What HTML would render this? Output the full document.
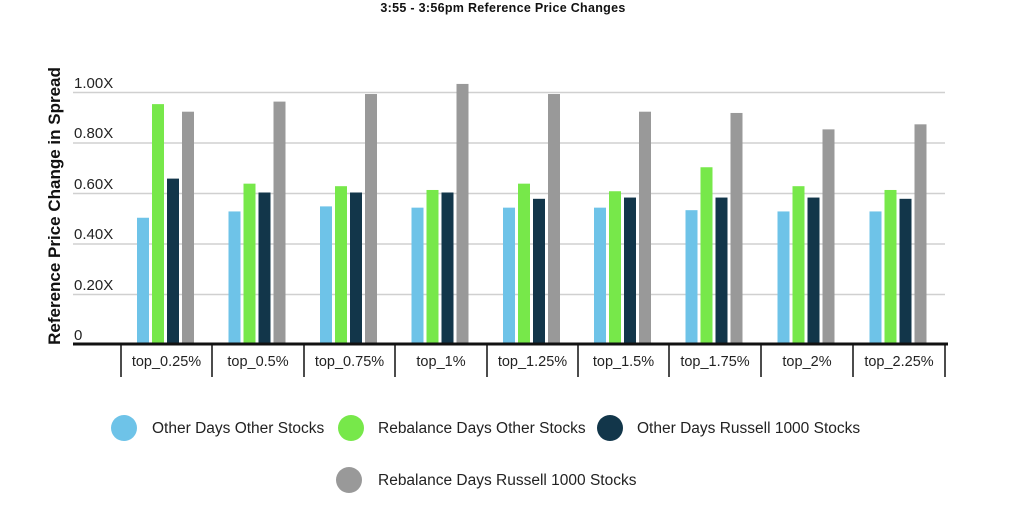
<!DOCTYPE html>
<html><head><meta charset="utf-8"><style>
html,body{margin:0;padding:0;background:#fff;}
svg{display:block;font-family:"Liberation Sans",Arial,sans-serif;}
</style></head><body>
<svg width="1024" height="506" viewBox="0 0 1024 506" xmlns="http://www.w3.org/2000/svg">
<text x="503" y="12" font-size="12.5" font-weight="bold" text-anchor="middle" fill="#111" letter-spacing="0.3">3:55 - 3:56pm Reference Price Changes</text>
<g stroke="#d0d0d0" stroke-width="1.5">
<line x1="73" y1="92.5" x2="945" y2="92.5"/>
<line x1="73" y1="143" x2="945" y2="143"/>
<line x1="73" y1="193.5" x2="945" y2="193.5"/>
<line x1="73" y1="244" x2="945" y2="244"/>
<line x1="73" y1="294.5" x2="945" y2="294.5"/>
</g>
<g font-size="15" fill="#222">
<text x="74" y="88">1.00X</text>
<text x="74" y="138">0.80X</text>
<text x="74" y="189">0.60X</text>
<text x="74" y="239">0.40X</text>
<text x="74" y="290">0.20X</text>
<text x="74" y="340">0</text>
</g>
<text transform="translate(60,206) rotate(-90)" font-size="17" font-weight="bold" text-anchor="middle" fill="#111">Reference Price Change in Spread</text>
<g id="bars"></g>
<line x1="73" y1="344" x2="948" y2="344" stroke="#111" stroke-width="3"/>
<g stroke="#111" stroke-width="1.5">
<line x1="121" y1="344" x2="121" y2="377"/><line x1="212" y1="344" x2="212" y2="377"/>
<line x1="304" y1="344" x2="304" y2="377"/><line x1="395" y1="344" x2="395" y2="377"/>
<line x1="487" y1="344" x2="487" y2="377"/><line x1="578" y1="344" x2="578" y2="377"/>
<line x1="669" y1="344" x2="669" y2="377"/><line x1="761" y1="344" x2="761" y2="377"/>
<line x1="853" y1="344" x2="853" y2="377"/><line x1="945" y1="344" x2="945" y2="377"/>
</g>
<g font-size="14.5" fill="#222" text-anchor="middle">
<text x="166.5" y="366">top_0.25%</text><text x="258" y="366">top_0.5%</text>
<text x="349.5" y="366">top_0.75%</text><text x="441" y="366">top_1%</text>
<text x="532.5" y="366">top_1.25%</text><text x="623.5" y="366">top_1.5%</text>
<text x="715" y="366">top_1.75%</text><text x="807" y="366">top_2%</text>
<text x="899" y="366">top_2.25%</text>
</g>
<g font-size="15.5" fill="#222">
<circle cx="124" cy="428" r="13" fill="#6ec3e8"/><text x="152" y="433">Other Days Other Stocks</text>
<circle cx="351" cy="428" r="13" fill="#77e84a"/><text x="378" y="433">Rebalance Days Other Stocks</text>
<circle cx="610" cy="428" r="13" fill="#12364a"/><text x="637" y="433">Other Days Russell 1000 Stocks</text>
<circle cx="349" cy="480" r="13" fill="#999999"/><text x="378" y="485">Rebalance Days Russell 1000 Stocks</text>
</g>
<script>
var d=[[.50,.95,.655,.92],[.525,.635,.60,.96],[.545,.625,.60,.99],[.54,.61,.60,1.03],[.54,.635,.575,.99],[.54,.605,.58,.92],[.53,.70,.58,.915],[.525,.625,.58,.85],[.525,.61,.575,.87]];
var c=["#6ec3e8","#77e84a","#12364a","#999999"];
var cx=[166.5,258,349.5,441,532.5,623.5,715,807,899];
var g=document.getElementById("bars"),ns="http://www.w3.org/2000/svg";
d.forEach(function(r,i){r.forEach(function(v,j){var e=document.createElementNS(ns,"rect");var h=v*252.5;
e.setAttribute("x",cx[i]-29.5+j*15);e.setAttribute("y",344-h);e.setAttribute("width",12);e.setAttribute("height",h);e.setAttribute("fill",c[j]);g.appendChild(e);});});
</script>
</svg>
</body></html>
